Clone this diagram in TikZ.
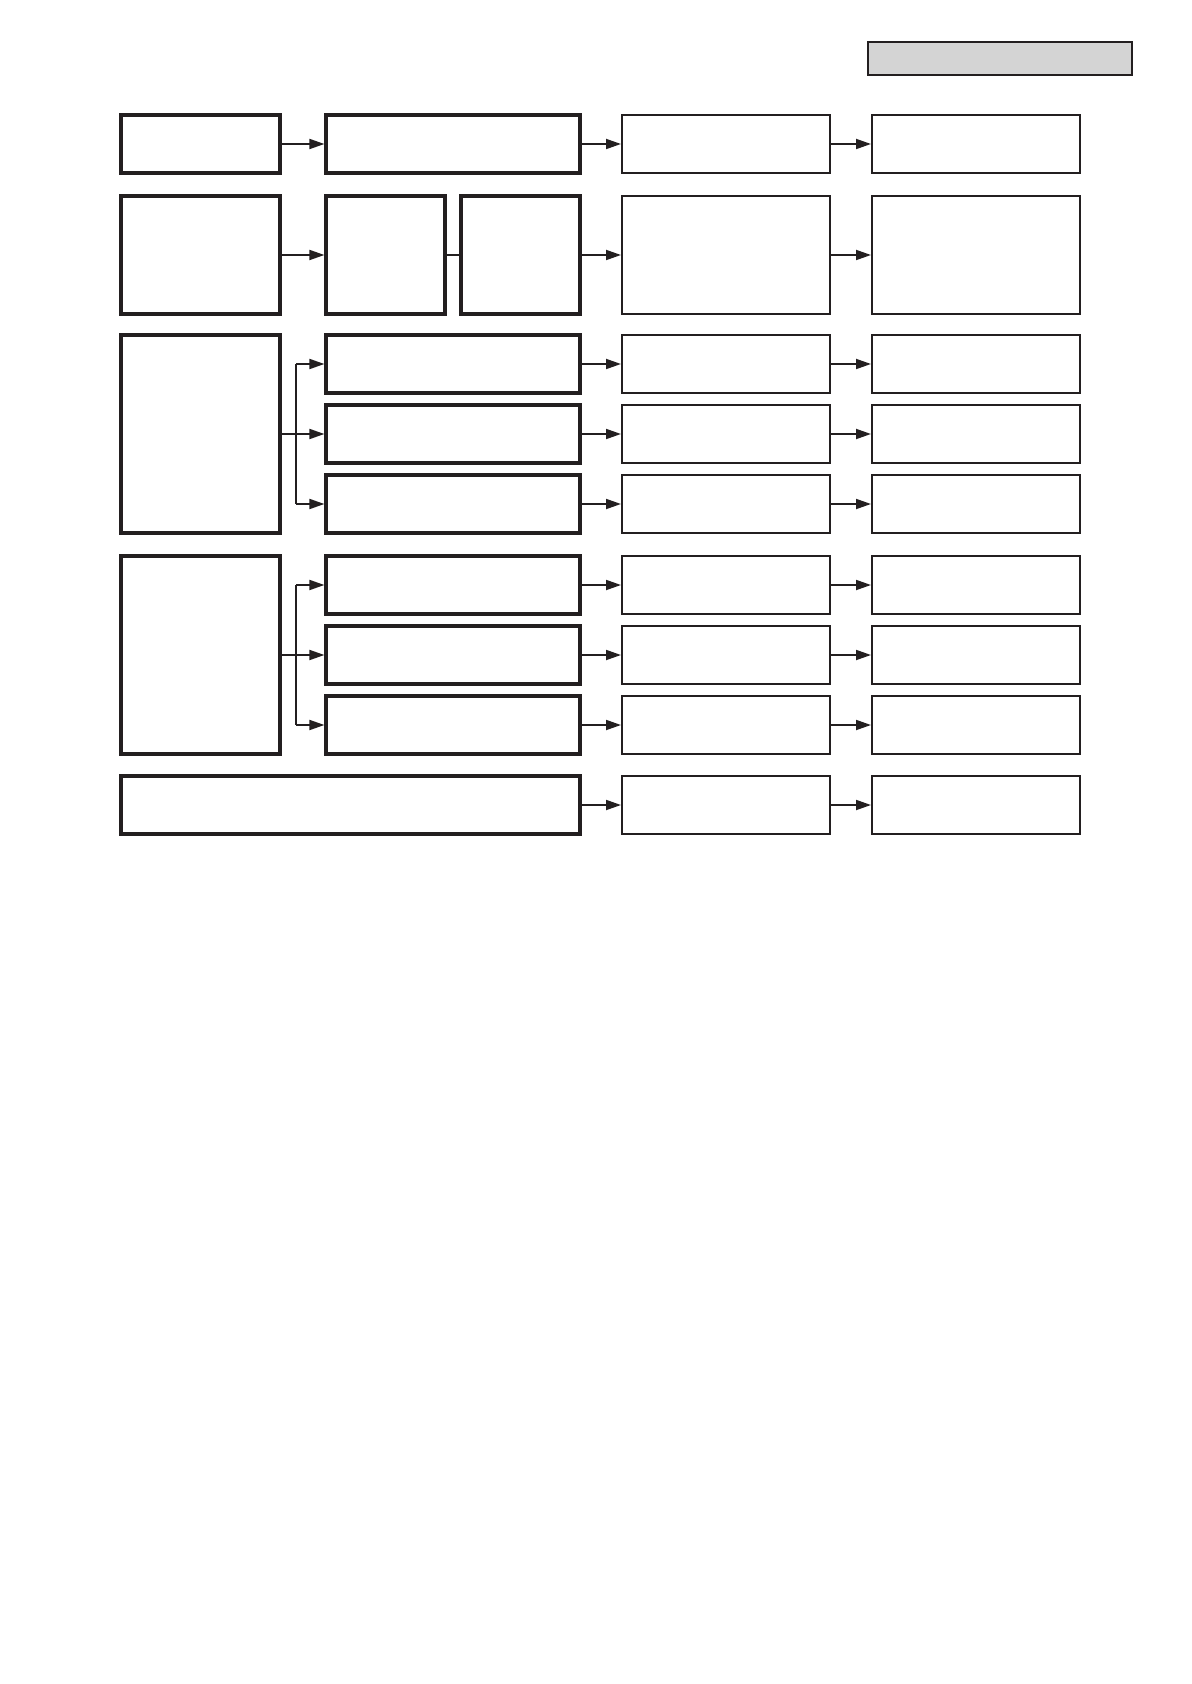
\documentclass[tikz,border=0pt]{standalone}
\usetikzlibrary{arrows.meta}
\definecolor{ink}{RGB}{35,31,32}
\definecolor{tabgray}{RGB}{212,212,212}
\begin{document}
\begin{tikzpicture}[x=1pt, y=1pt,
    heavybox/.style={draw=ink, line width=1.6pt, inner sep=0pt, minimum height=29pt},
    lightbox/.style={draw=ink, line width=1pt, inner sep=0pt, minimum width=104pt, minimum height=29pt},
    link/.style={draw=ink, line width=0.9pt},
    arr/.style={link, -{Triangle[length=7.5pt,width=5pt]}}]
            % Page frame
            \useasboundingbox (0,0) rectangle (595.5,-842);

            % Grey tab at the top right
            \node[draw=ink, fill=tabgray, line width=1.1pt, inner sep=0pt, minimum width=132pt, minimum height=16.5pt] (tab) at (500,-29.25) {};

            % First row
            \node[heavybox, minimum width=79.5pt] (r1a) at (100.25,-72) {};
            \node[heavybox, minimum width=127pt] (r1b) at (226.5,-72) {};
            \node[lightbox] (r1c) at (363,-72) {};
            \node[lightbox] (r1d) at (488,-72) {};
            \draw[arr] (r1a) -- (r1b);
            \draw[arr] (r1b) -- (r1c);
            \draw[arr] (r1c) -- (r1d);

            % Second row, the middle box split in two
            \node[heavybox, minimum width=79.5pt, minimum height=59pt] (r2a) at (100.25,-127.5) {};
            \node[heavybox, minimum width=59.5pt, minimum height=59pt] (r2b) at (192.75,-127.5) {};
            \node[heavybox, minimum width=59.5pt, minimum height=59pt] (r2c) at (260.25,-127.5) {};
            \node[lightbox, minimum height=59pt] (r2d) at (363,-127.5) {};
            \node[lightbox, minimum height=59pt] (r2e) at (488,-127.5) {};
            \draw[arr] (r2a) -- (r2b);
            \draw[link] (r2b) -- (r2c);
            \draw[arr] (r2c) -- (r2d);
            \draw[arr] (r2d) -- (r2e);

            % First group of three
            \node[heavybox, minimum width=79.5pt, minimum height=99pt] (g1) at (100.25,-217) {};
            \node[heavybox, minimum width=127pt] (g1a) at (226.5,-182) {};
            \node[heavybox, minimum width=127pt] (g1b) at (226.5,-217) {};
            \node[heavybox, minimum width=127pt] (g1c) at (226.5,-252) {};
            \node[lightbox] (h1a) at (363,-182) {};
            \node[lightbox] (h1b) at (363,-217) {};
            \node[lightbox] (h1c) at (363,-252) {};
            \node[lightbox] (k1a) at (488,-182) {};
            \node[lightbox] (k1b) at (488,-217) {};
            \node[lightbox] (k1c) at (488,-252) {};
            \coordinate (j1) at (148,-217);
            \draw[link] (j1 |- g1a) -- (j1 |- g1c);
            \draw[arr] (j1 |- g1a) -- (g1a);
            \draw[arr] (g1) -- (g1b);
            \draw[arr] (j1 |- g1c) -- (g1c);
            \draw[arr] (g1a) -- (h1a);
            \draw[arr] (g1b) -- (h1b);
            \draw[arr] (g1c) -- (h1c);
            \draw[arr] (h1a) -- (k1a);
            \draw[arr] (h1b) -- (k1b);
            \draw[arr] (h1c) -- (k1c);

            % Second group of three
            \node[heavybox, minimum width=79.5pt, minimum height=99pt] (g2) at (100.25,-327.5) {};
            \node[heavybox, minimum width=127pt] (g2a) at (226.5,-292.5) {};
            \node[heavybox, minimum width=127pt] (g2b) at (226.5,-327.5) {};
            \node[heavybox, minimum width=127pt] (g2c) at (226.5,-362.5) {};
            \node[lightbox] (h2a) at (363,-292.5) {};
            \node[lightbox] (h2b) at (363,-327.5) {};
            \node[lightbox] (h2c) at (363,-362.5) {};
            \node[lightbox] (k2a) at (488,-292.5) {};
            \node[lightbox] (k2b) at (488,-327.5) {};
            \node[lightbox] (k2c) at (488,-362.5) {};
            \coordinate (j2) at (148,-327.5);
            \draw[link] (j2 |- g2a) -- (j2 |- g2c);
            \draw[arr] (j2 |- g2a) -- (g2a);
            \draw[arr] (g2) -- (g2b);
            \draw[arr] (j2 |- g2c) -- (g2c);
            \draw[arr] (g2a) -- (h2a);
            \draw[arr] (g2b) -- (h2b);
            \draw[arr] (g2c) -- (h2c);
            \draw[arr] (h2a) -- (k2a);
            \draw[arr] (h2b) -- (k2b);
            \draw[arr] (h2c) -- (k2c);

            % Last row, one wide box
            \node[heavybox, minimum width=229.5pt] (r5a) at (175.25,-402.5) {};
            \node[lightbox] (r5b) at (363,-402.5) {};
            \node[lightbox] (r5c) at (488,-402.5) {};
            \draw[arr] (r5a) -- (r5b);
            \draw[arr] (r5b) -- (r5c);

        \end{tikzpicture}
\end{document}
